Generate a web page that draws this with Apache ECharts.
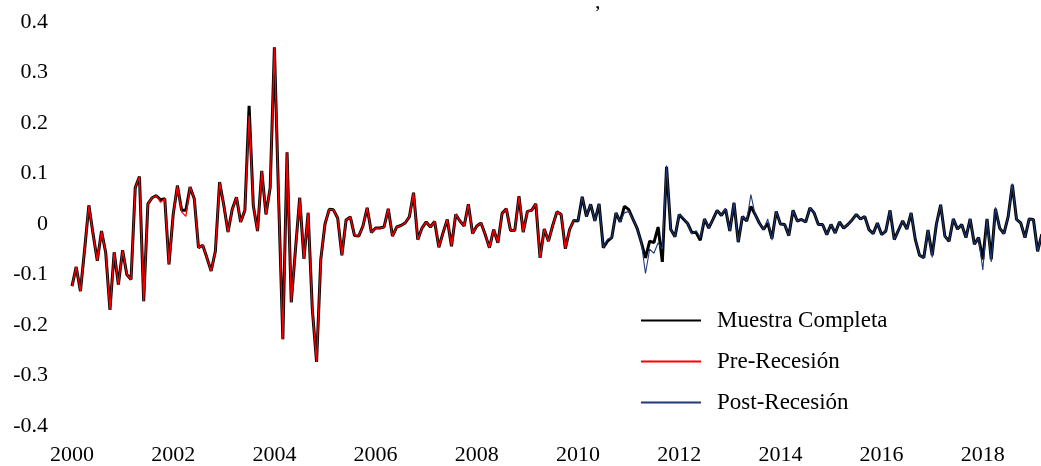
<!DOCTYPE html>
<html><head><meta charset="utf-8">
<script src="https://cdn.jsdelivr.net/npm/echarts@6/dist/echarts.min.js"></script>
<style>html,body{margin:0;padding:0;background:#fff}#c{width:1041px;height:466px}</style>
</head><body><div id="c"></div>
<script>
// Monthly series starting January 2000
const startYear = 2000;
const seriesNames = ['Muestra Completa', 'Pre-Recesión', 'Post-Recesión'];

const fullSample = [
  -0.123,-0.085,-0.133,-0.050,0.037,-0.020,-0.073,-0.014,-0.057,-0.170,-0.056,-0.120,
  -0.052,-0.100,-0.110,0.072,0.094,-0.153,0.040,0.052,0.056,0.048,0.050,-0.080,
  0.019,0.076,0.027,0.027,0.073,0.050,-0.047,-0.042,-0.067,-0.093,-0.054,0.083,
  0.037,-0.016,0.029,0.053,0.004,0.027,0.234,0.036,-0.014,0.105,0.019,0.072,
  0.350,0.050,-0.228,0.142,-0.155,-0.050,0.052,-0.069,0.022,-0.170,-0.273,-0.070,
  0.000,0.029,0.028,0.012,-0.062,0.008,0.014,-0.023,-0.024,-0.004,0.032,-0.017,
  -0.008,-0.008,-0.006,0.030,-0.024,-0.006,-0.003,0.002,0.014,0.062,-0.031,-0.008,
  0.004,-0.006,0.005,-0.046,-0.017,0.009,-0.044,0.019,0.006,-0.004,0.039,-0.019,
  -0.004,0.002,-0.021,-0.047,-0.011,-0.037,0.021,0.030,-0.013,-0.013,0.055,-0.016,
  0.025,0.027,0.040,-0.067,-0.010,-0.034,-0.003,0.024,0.019,-0.049,-0.011,0.007,
  0.006,0.054,0.015,0.039,0.006,0.040,-0.047,-0.034,-0.027,0.022,0.004,0.035,
  0.029,0.010,-0.008,-0.036,-0.067,-0.034,-0.037,-0.006,-0.075,0.113,-0.011,-0.025,
  0.019,0.010,0.001,-0.017,-0.017,-0.032,0.010,-0.008,0.009,0.027,0.017,0.029,
  -0.014,0.042,-0.036,0.015,0.006,0.035,0.019,0.002,-0.011,0.002,-0.029,0.025,
  0.000,-0.001,-0.023,0.027,0.006,0.009,0.004,0.032,0.022,-0.001,-0.001,-0.021,
  -0.001,-0.018,0.004,-0.008,-0.001,0.008,0.019,0.010,0.015,-0.011,-0.019,0.002,
  -0.021,-0.014,0.027,-0.031,-0.012,0.006,-0.010,0.022,-0.031,-0.062,-0.067,-0.012,
  -0.062,0.000,0.038,-0.024,-0.034,0.010,-0.010,-0.001,-0.027,0.010,-0.040,-0.027,
  -0.070,0.010,-0.070,0.030,-0.008,-0.019,0.014,0.078,0.009,0.002,-0.027,0.010,
  0.009,-0.054,-0.020
];

const preRecession = [
  -0.123,-0.085,-0.133,-0.050,0.037,-0.020,-0.073,-0.014,-0.057,-0.170,-0.056,-0.120,
  -0.052,-0.100,-0.110,0.072,0.094,-0.153,0.040,0.052,0.056,0.043,0.050,-0.080,
  0.019,0.076,0.024,0.015,0.073,0.050,-0.047,-0.042,-0.067,-0.093,-0.054,0.083,
  0.037,-0.016,0.029,0.053,0.004,0.027,0.215,0.036,-0.014,0.105,0.019,0.072,
  0.350,0.050,-0.228,0.142,-0.155,-0.050,0.052,-0.069,0.022,-0.170,-0.273,-0.070,
  0.000,0.029,0.028,0.012,-0.062,0.008,0.014,-0.023,-0.024,-0.004,0.032,-0.017,
  -0.008,-0.008,-0.006,0.030,-0.024,-0.006,-0.003,0.002,0.014,0.062,-0.031,-0.008,
  0.004,-0.006,0.005,-0.046,-0.017,0.009,-0.044,0.019,0.006,-0.004,0.039,-0.019,
  -0.004,0.002,-0.021,-0.047,-0.011,-0.037,0.021,0.030,-0.013,-0.013,0.055,-0.016,
  0.025,0.027,0.040,-0.067,-0.010,-0.034,-0.003,0.024,0.019,-0.049,-0.011,0.007
];

// Post-recession starts at month index 119 (December 2009)
const postStartIndex = 119;
const postRecession = [
  0.007,
  0.006,0.054,0.015,0.039,0.006,0.040,-0.047,-0.030,-0.027,0.022,0.004,0.022,
  0.025,0.010,-0.008,-0.036,-0.098,-0.050,-0.058,-0.037,-0.050,0.116,-0.011,-0.025,
  0.019,0.012,0.001,-0.020,-0.013,-0.027,0.010,-0.008,0.009,0.027,0.017,0.031,
  -0.014,0.042,-0.036,0.015,0.006,0.058,0.019,0.002,-0.011,0.010,-0.032,0.025,
  0.000,-0.001,-0.023,0.027,0.006,0.009,0.004,0.032,0.022,-0.001,-0.001,-0.021,
  -0.001,-0.018,0.004,-0.008,-0.001,0.008,0.019,0.010,0.015,-0.011,-0.019,0.002,
  -0.021,-0.014,0.027,-0.031,-0.012,0.006,-0.010,0.022,-0.031,-0.062,-0.067,-0.012,
  -0.066,0.000,0.038,-0.024,-0.034,0.010,-0.010,-0.001,-0.027,0.010,-0.040,-0.027,
  -0.091,0.010,-0.075,0.033,-0.008,-0.019,0.014,0.080,0.009,0.002,-0.027,0.010,
  0.009,-0.054,-0.020
];

const xTickLabels = ['2000','2002','2004','2006','2008','2010','2012','2014','2016','2018'];
const yTickLabels = ['-0.4','-0.3','-0.2','-0.1','0','0.1','0.2','0.3','0.4'];
const topText = ',';

const toPoints = (arr, offset) => arr.map((v, i) => [startYear + (i + offset) / 12, v]);
const FONT = 'Liberation Serif';

const chart = echarts.init(document.getElementById('c'), null, {renderer: 'canvas'});
chart.setOption({
  animation: false,
  backgroundColor: '#ffffff',
  title: {
    text: topText, left: 590, top: -14,
    textStyle: {fontFamily: FONT, fontSize: 22, fontWeight: 'normal', color: '#000'}
  },
  grid: {left: 72, right: 0, top: 22, bottom: 39, containLabel: false},
  xAxis: {
    type: 'value', min: 2000, max: 2019.15, interval: 2,
    axisLine: {show: false}, axisTick: {show: false}, splitLine: {show: false},
    axisLabel: {
      showMaxLabel: false, margin: 18,
      fontFamily: FONT, fontSize: 22, color: '#000',
      formatter: v => { const s = String(Math.round(v)); return xTickLabels.includes(s) ? s : ''; }
    }
  },
  yAxis: {
    type: 'value', min: -0.4, max: 0.4, interval: 0.1,
    axisLine: {show: false}, axisTick: {show: false}, splitLine: {show: false},
    axisLabel: {
      margin: 24, fontFamily: FONT, fontSize: 22, color: '#000', align: 'right',
      formatter: v => yTickLabels[Math.round((v + 0.4) * 10)]
    }
  },
  legend: {
    orient: 'vertical', left: 640, top: 309, padding: 0,
    itemWidth: 60, itemHeight: 22, itemGap: 18,
    data: seriesNames,
    itemStyle: {opacity: 0},
    textStyle: {fontFamily: FONT, fontSize: 23, color: '#000', padding: [0, 0, 0, 11]}
  },
  series: [
    {name: seriesNames[0], type: 'line', data: toPoints(fullSample, 0), showSymbol: false, symbol: 'none',
     lineStyle: {color: '#000000', width: 3}, itemStyle: {color: '#000000'}, z: 1, clip: true},
    {name: seriesNames[1], type: 'line', data: toPoints(preRecession, 0), showSymbol: false, symbol: 'none',
     lineStyle: {color: '#ff0000', width: 1.3}, itemStyle: {color: '#ff0000'}, z: 2, clip: true},
    {name: seriesNames[2], type: 'line', data: toPoints(postRecession, postStartIndex), showSymbol: false, symbol: 'none',
     lineStyle: {color: '#1f3a7a', width: 1.1}, itemStyle: {color: '#1f3a7a'}, z: 3, clip: true}
  ]
});
</script></body></html>
